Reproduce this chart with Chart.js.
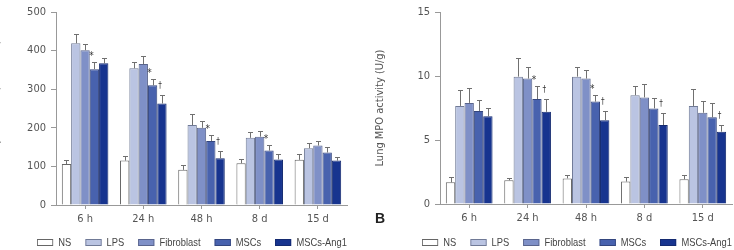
<!DOCTYPE html>
<html>
<head>
<meta charset="utf-8">
<script src="https://cdn.jsdelivr.net/npm/chart.js@4/dist/chart.umd.min.js"></script>
<style>
  body { margin: 0; width: 734px; height: 250px; overflow: hidden; background: #fff; position: relative;
         font-family: 'Liberation Sans', Arial, sans-serif; }
  .wrap { position: absolute; top: 0; height: 250px; }
  #wa { left: -7px; width: 360px; }
  #wb { left: 370px; width: 364px; }
  .legend { position: absolute; top: 236px; display: flex; gap: 16.5px; font-size: 11px; line-height: 12px; color: #444;
            transform: scaleX(0.85); transform-origin: 0 0; }
  .legend .item { display: flex; align-items: center; white-space: nowrap; }
  .legend i { display: inline-block; width: 17px; height: 5px; border: 1px solid #555; margin-right: 6px; }
  #legA { left: 37px; }
  #legB { left: 422px; }
  #panelB { position: absolute; left: 375px; top: 210px; font: bold 14px 'Liberation Sans', Arial, sans-serif; color: #222; }
</style>
</head>
<body>
<div class="wrap" id="wa"><canvas id="chartA"></canvas></div>
<div class="wrap" id="wb"><canvas id="chartB"></canvas></div>
<div class="legend" id="legA"></div>
<div class="legend" id="legB"></div>
<div id="panelB">B</div>
<script>
const timePoints = ['6 h', '24 h', '48 h', '8 d', '15 d'];
const groups = ['NS', 'LPS', 'Fibroblast', 'MSCs', 'MSCs-Ang1'];

// neutrophil count (left panel)
const neutroNS    = [106, 115, 91, 108, 117];
const neutroLPS   = [419, 354, 207, 174, 147];
const neutroFib   = [401, 365, 200, 177, 154];
const neutroMSC   = [352, 310, 166, 141, 136];
const neutroAng1  = [367, 263, 121, 118, 115];
const neutroNSsd   = [11, 12, 13, 11, 15];
const neutroLPSsd  = [24, 16, 29, 16, 14];
const neutroFibsd  = [15, 22, 18, 15, 13];
const neutroMSCsd  = [18, 16, 15, 14, 13];
const neutroAng1sd = [15, 22, 19, 13, 10];
const neutroTicks = [0, 100, 200, 300, 400, 500];
// [time point, group, symbol]
const neutroMarks = [[0, 3, '*'], [1, 3, '*'], [1, 4, '†'], [2, 3, '*'], [2, 4, '†'], [3, 3, '*']];

// lung MPO activity (right panel)
const mpoNS    = [1.69, 1.85, 2.0, 1.75, 1.93];
const mpoLPS   = [7.66, 9.95, 9.95, 8.5, 7.66];
const mpoFib   = [7.9, 9.8, 9.8, 8.33, 7.13];
const mpoMSC   = [7.27, 8.2, 8.0, 7.47, 6.77];
const mpoAng1  = [6.85, 7.2, 6.55, 6.17, 5.65];
const mpoNSsd   = [0.45, 0.2, 0.3, 0.35, 0.37];
const mpoLPSsd  = [1.24, 1.45, 0.75, 0.7, 1.34];
const mpoFibsd  = [1.2, 0.9, 0.7, 1.07, 0.92];
const mpoMSCsd  = [0.83, 1.0, 0.5, 0.83, 1.1];
const mpoAng1sd = [0.65, 1.0, 0.72, 0.93, 0.52];
const mpoTicks = [0, 5, 10, 15];
const mpoMarks = [[1, 3, '*'], [1, 4, '†'], [2, 3, '*'], [2, 4, '†'], [3, 4, '†'], [4, 4, '†']];

const fills = ['#ffffff', '#bac4e2', '#7f90c7', '#4862ae', '#17348f'];
const edges = ['#666666', '#707a96', '#59648c', '#34467e', '#142a70'];
const FONT = "'DejaVu Sans Condensed', 'Liberation Sans', sans-serif";

const errorBars = {
  id: 'errorBars',
  afterDatasetsDraw(chart, args, opts) {
    const ctx = chart.ctx;
    const y = chart.scales.y;
    const caps = [];
    ctx.save();
    ctx.strokeStyle = '#707070';
    ctx.lineWidth = 1;
    chart.data.datasets.forEach((ds, i) => {
      caps[i] = [];
      chart.getDatasetMeta(i).data.forEach((bar, j) => {
        const top = Math.round(y.getPixelForValue(ds.data[j] + ds.sd[j])) + 0.5;
        const x = Math.round(bar.x) + 0.5;
        caps[i][j] = {x: bar.x, y: top};
        ctx.beginPath();
        ctx.moveTo(x, bar.y);
        ctx.lineTo(x, top);
        ctx.moveTo(x - 2.5, top);
        ctx.lineTo(x + 2.5, top);
        ctx.stroke();
      });
    });
    ctx.fillStyle = '#333';
    ctx.textAlign = 'center';
    ctx.textBaseline = 'alphabetic';
    (opts.marks || []).forEach(([t, g, sym]) => {
      const c = caps[g][t];
      if (sym === '*') {
        ctx.font = '10px ' + FONT;
        ctx.fillText(sym, c.x - 3, c.y - 4);
      } else {
        ctx.font = '8px ' + FONT;
        ctx.fillText(sym, c.x - 2, c.y - 8);
      }
    });
    ctx.restore();
  }
};

function makeChart(id, series, sds, ticks, title, marks, yWidth, xHeight, padRight, titlePad) {
  return new Chart(document.getElementById(id), {
    type: 'bar',
    data: {
      labels: timePoints,
      datasets: groups.map((g, i) => ({
        label: g,
        data: series[i],
        sd: sds[i],
        backgroundColor: fills[i],
        borderColor: edges[i],
        borderWidth: 1,
        barPercentage: 1.0,
        categoryPercentage: 0.8
      }))
    },
    options: {
      responsive: true,
      maintainAspectRatio: false,
      animation: false,
      layout: { padding: { top: 12, right: padRight, bottom: 0, left: 0 } },
      plugins: {
        legend: { display: false },
        tooltip: { enabled: false },
        errorBars: { marks: marks }
      },
      scales: {
        x: {
          grid: { offset: false, drawOnChartArea: false, tickLength: 4, color: '#999' },
          border: { color: '#999' },
          ticks: { color: '#555', font: { family: FONT, size: 11 }, padding: 4 },
          afterFit(scale) { scale.height = xHeight; }
        },
        y: {
          min: ticks[0],
          max: ticks[ticks.length - 1],
          afterBuildTicks(scale) { scale.ticks = ticks.map(v => ({value: v})); },
          grid: { drawOnChartArea: false, tickLength: 5, color: '#999' },
          border: { color: '#999' },
          ticks: { color: '#555', font: { family: FONT, size: 11 }, padding: 5 },
          title: { display: true, text: title, color: '#555', font: { family: FONT, size: 11 }, padding: { top: titlePad, bottom: 0 } },
          afterFit(scale) { scale.width = yWidth; }
        }
      }
    },
    plugins: [errorBars]
  });
}

makeChart('chartA',
  [neutroNS, neutroLPS, neutroFib, neutroMSC, neutroAng1],
  [neutroNSsd, neutroLPSsd, neutroFibsd, neutroMSCsd, neutroAng1sd],
  neutroTicks, 'Neutrophil count (×10⁴/mL)', neutroMarks, 63, 45, 6, -3);

makeChart('chartB',
  [mpoNS, mpoLPS, mpoFib, mpoMSC, mpoAng1],
  [mpoNSsd, mpoLPSsd, mpoFibsd, mpoMSCsd, mpoAng1sd],
  mpoTicks, 'Lung MPO activity (U/g)', mpoMarks, 70, 46, 2, 4);

function buildLegend(id) {
  const el = document.getElementById(id);
  groups.forEach((g, i) => {
    const item = document.createElement('span');
    item.className = 'item';
    const box = document.createElement('i');
    box.style.background = fills[i];
    box.style.borderColor = edges[i];
    item.appendChild(box);
    item.appendChild(document.createTextNode(g));
    el.appendChild(item);
  });
}
buildLegend('legA');
buildLegend('legB');
</script>
</body>
</html>
